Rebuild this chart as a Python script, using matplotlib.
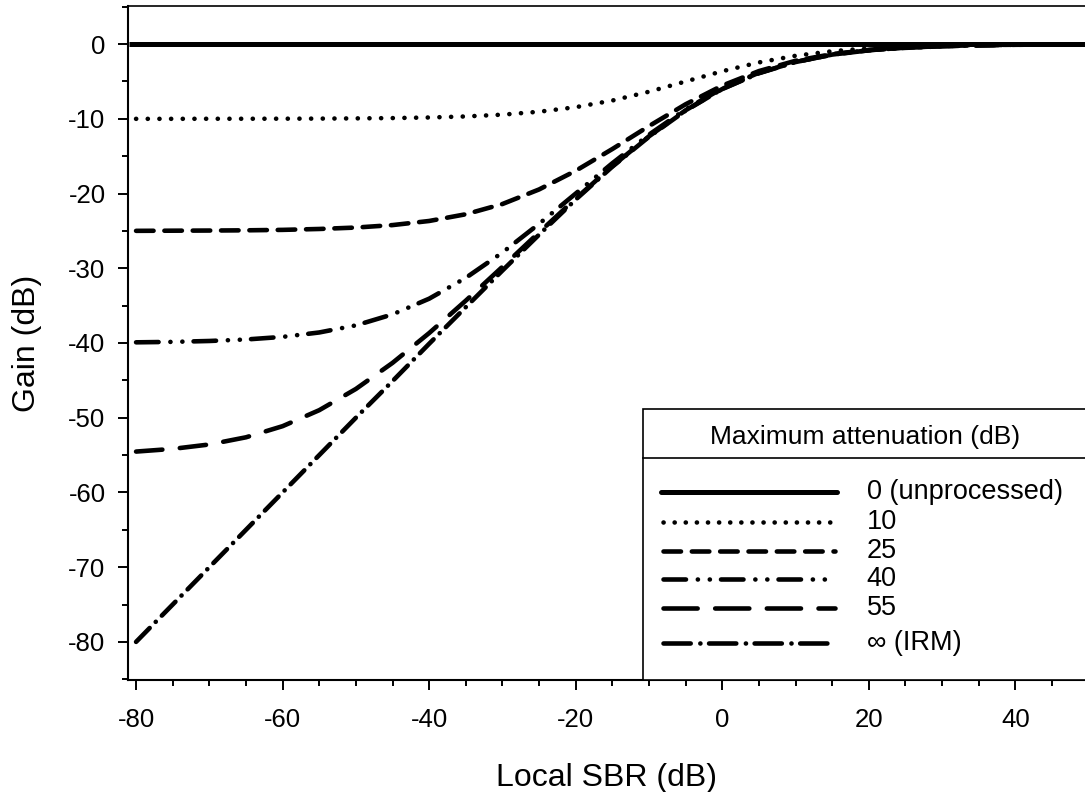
import matplotlib
matplotlib.use("Agg")
import matplotlib.pyplot as plt
from matplotlib.lines import Line2D
from matplotlib.patches import Rectangle
from matplotlib.ticker import MultipleLocator

plt.rcParams['font.family'] = ['Liberation Sans', 'DejaVu Sans']
plt.rcParams['lines.scale_dashes'] = False
plt.rcParams['axes.unicode_minus'] = False

# local SBR (dB), every 5 dB
sbr = [-80, -75, -70, -65, -60, -55, -50, -45, -40, -35, -30, -25, -20, -15,
       -10, -5, 0, 5, 10, 15, 20, 25, 30, 35, 40, 45, 50]

# gain (dB) for each maximum attenuation
sbr_unproc = [-81, 50]
gain_unproc = [0, 0]
gain_10 = [-10.0, -10.0, -9.99, -9.99, -9.98, -9.97, -9.94, -9.90, -9.82, -9.68,
           -9.44, -9.05, -8.44, -7.55, -6.37, -5.00, -3.63, -2.45, -1.56, -0.95,
           -0.56, -0.32, -0.18, -0.10, -0.06, -0.03, -0.02]
gain_25 = [-24.99, -24.97, -24.95, -24.92, -24.86, -24.74, -24.55, -24.22, -23.67,
           -22.77, -21.40, -19.45, -16.95, -14.04, -10.97, -8.05, -5.55, -3.61,
           -2.23, -1.34, -0.78, -0.45, -0.26, -0.14, -0.08, -0.05, -0.03]
gain_40 = [-39.91, -39.85, -39.73, -39.53, -39.18, -38.59, -37.64, -36.17, -34.07,
           -31.28, -27.89, -24.05, -20.00, -15.94, -12.12, -8.72, -5.93, -3.83,
           -2.36, -1.41, -0.82, -0.47, -0.27, -0.15, -0.09, -0.05, -0.03]
gain_55 = [-54.53, -54.17, -53.58, -52.62, -51.13, -48.99, -46.15, -42.66, -38.67,
           -34.33, -29.80, -25.20, -20.67, -16.33, -12.34, -8.85, -6.01, -3.87,
           -2.38, -1.42, -0.83, -0.46, -0.26, -0.15, -0.09, -0.05, -0.03]
gain_irm = [-80.0, -75.0, -70.0, -65.0, -60.0, -55.0, -50.0, -45.1, -40.1, -35.2,
            -30.3, -25.5, -20.8, -16.4, -12.4, -8.9, -6.0, -3.9, -2.4, -1.4,
            -0.8, -0.5, -0.3, -0.15, -0.09, -0.05, -0.03]

labels = ['0 (unprocessed)', '10', '25', '40', '55', '\u221e (IRM)']

# (plot dashes, legend dashes) in points
styles = [
    (None, None),
    ([0.1, 8.3], [0.1, 7.9]),
    ([12.6, 7.8], [12.6, 7.8]),
    ([16.2, 8.5, 0.1, 8.5, 0.1, 8.0], [16.2, 8.5, 0.1, 8.5, 0.1, 8.0]),
    ([19.0, 12.6], [24.6, 12.6]),
    ([14.0, 6.2, 0.1, 6.2], [19.6, 6.9, 0.1, 6.2]),
]

fig = plt.figure(figsize=(10.85, 7.92), dpi=100)
ax = fig.add_axes([128 / 1085, 1 - 680 / 792, 957 / 1085, 674 / 792])

ax.plot(sbr_unproc, gain_unproc, color='black', lw=3.6, solid_capstyle='butt')
curves = [gain_10, gain_25, gain_40, gain_55, gain_irm]
for vals, (d, _) in zip(curves, styles[1:]):
    ax.plot(sbr, vals, color='black', lw=3.3, dashes=d,
            dash_capstyle='round', solid_capstyle='round')

ax.set_xlim(-81.1, 49.5)
ax.set_ylim(-85.1, 5.1)
ax.set_xticks(range(-80, 41, 20))
ax.set_yticks(range(-80, 1, 10))
ax.xaxis.set_minor_locator(MultipleLocator(5))
ax.yaxis.set_minor_locator(MultipleLocator(5))
ax.tick_params(which='major', direction='out', length=7.2, width=1.4,
               labelsize=18.5, pad=9)
ax.tick_params(axis='x', which='major', pad=13)
ax.tick_params(which='minor', direction='out', length=4.2, width=1.4)
ax.spines['right'].set_visible(False)
for s in ['left', 'bottom']:
    ax.spines[s].set_linewidth(1.5)
ax.spines['top'].set_linewidth(1.2)

ax.set_xlabel('Local SBR (dB)', fontsize=23, labelpad=22)
ax.set_ylabel('Gain (dB)', fontsize=23, labelpad=19)

# legend box drawn by hand (title row with a rule under it)
x0, top, sep = 0.538, 0.402, 0.329
ax.add_patch(Rectangle((x0, 0), 1.05 - x0, top, transform=ax.transAxes,
                       facecolor='white', edgecolor='black', lw=1.2,
                       clip_on=False, zorder=5))
ax.add_line(Line2D([x0, 1.05], [sep, sep], transform=ax.transAxes,
                   color='black', lw=1.2, clip_on=False, zorder=6))
ax.text(0.770, 0.3605, 'Maximum attenuation (dB)', transform=ax.transAxes,
        ha='center', va='center', fontsize=19, zorder=6)

rows = [0.2785, 0.234, 0.1918, 0.1494, 0.1064, 0.0553]
for i, (lab, y) in enumerate(zip(labels, rows)):
    d = styles[i][1]
    if d is None:
        h = Line2D([0.557, 0.741], [y, y], color='black', lw=3.6,
                   solid_capstyle='round')
    else:
        h = Line2D([0.559, 0.739], [y, y], color='black', lw=3.3, dashes=d,
                   dash_capstyle='round')
    h.set_transform(ax.transAxes)
    h.set_clip_on(False)
    h.set_zorder(6)
    ax.add_line(h)
    ax.text(0.772, y, lab, transform=ax.transAxes, va='center',
            fontsize=19.5, zorder=6)

fig.savefig('out.png', dpi=100)
